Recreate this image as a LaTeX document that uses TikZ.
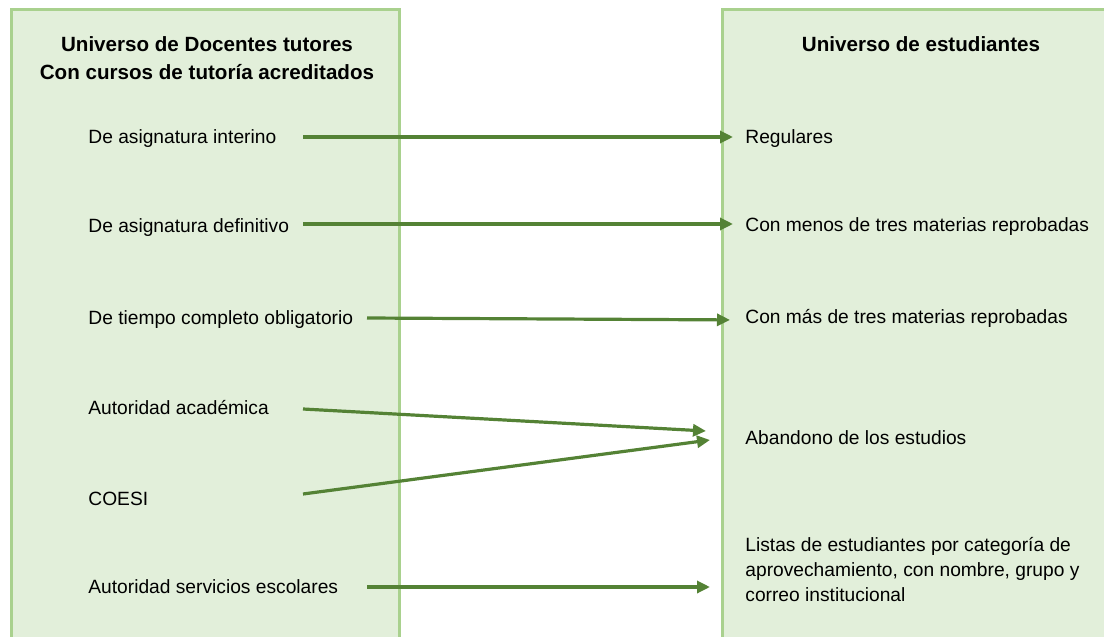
\documentclass[tikz,border=0pt]{standalone}
\usepackage{fontspec}
\setmainfont{Liberation Sans}
\usepackage{xcolor}
\usetikzlibrary{positioning, arrows.meta}
\definecolor{boxline}{HTML}{A9D18E}
\definecolor{boxfill}{HTML}{E2EFDA}
\definecolor{arrowgreen}{HTML}{548235}
\tikzset{
  panel/.style={draw=boxline, fill=boxfill, line width=1.5pt},
  title/.style={font=\fontsize{10.3}{14}\selectfont\bfseries, align=center, inner sep=0pt},
  item/.style={font=\fontsize{9.6}{12.5}\selectfont, anchor=west, inner sep=0pt, align=left},
  arr/.style={draw=arrowgreen, line width=1.6pt, -{Triangle[length=6.5pt, width=6pt]}}
}
\begin{document}
\begin{tikzpicture}[x=0.5pt, y=-0.5pt]
    \useasboundingbox (0,0) rectangle (1104,637);
    \begin{scope}
    \clip (0,0) rectangle (1104,637);
    % Draw the two panels
    \path[panel] (11.5,9) rectangle (399.5,660);
    \path[panel] (722.5,9) rectangle (1120,660);
    \end{scope}

    % Titles
    \node[title] (tleft) at (207,58) {Universo de Docentes tutores\\Con cursos de tutoría acreditados};
    \node[title] (tright) at (921,44) {Universo de estudiantes};

    % Left items
    \node[item] (d1) at (88,139) {De asignatura interino};
    \node[item] (d2) at (88,228) {De asignatura definitivo};
    \node[item] (d3) at (88,320) {De tiempo completo obligatorio};
    \node[item] (d4) at (88,408) {Autoridad académica};
    \node[item] (d5) at (88,499) {COESI};
    \node[item] (d6) at (88,587) {Autoridad servicios escolares};

    % Right items
    \node[item] (e1) at (745,139) {Regulares};
    \node[item] (e2) at (745,227) {Con menos de tres materias reprobadas};
    \node[item] (e3) at (745,318) {Con más de tres materias reprobadas};
    \node[item] (e4) at (745,438) {Abandono de los estudios};
    \node[item] (e5) at (745,570) {Listas de estudiantes por categoría de\\aprovechamiento, con nombre, grupo y\\correo institucional};

    % Arrow ends
    \coordinate (s1) at (303,137);
    \coordinate (s2) at (303,224);
    \coordinate (s3) at (367,318);
    \coordinate (s4) at (303,409);
    \coordinate (s5) at (303,494);
    \coordinate (s6) at (367,587);
    \coordinate (t4) at (706,431);
    \coordinate (t5) at (710,440);
    \coordinate (t6) at (710,587);

    % Draw arrows
    \draw[arr, shorten >=6pt] (s1) -- (e1.west |- s1);
    \draw[arr, shorten >=6pt] (s2) -- (e2.west |- s2);
    \draw[arr, shorten >=7.5pt] (s3) -- ([yshift=-1pt]e3.west |- s3);
    \draw[arr] (s4) -- (t4);
    \draw[arr] (s5) -- (t5);
    \draw[arr] (s6) -- (t6);
\end{tikzpicture}
\end{document}
